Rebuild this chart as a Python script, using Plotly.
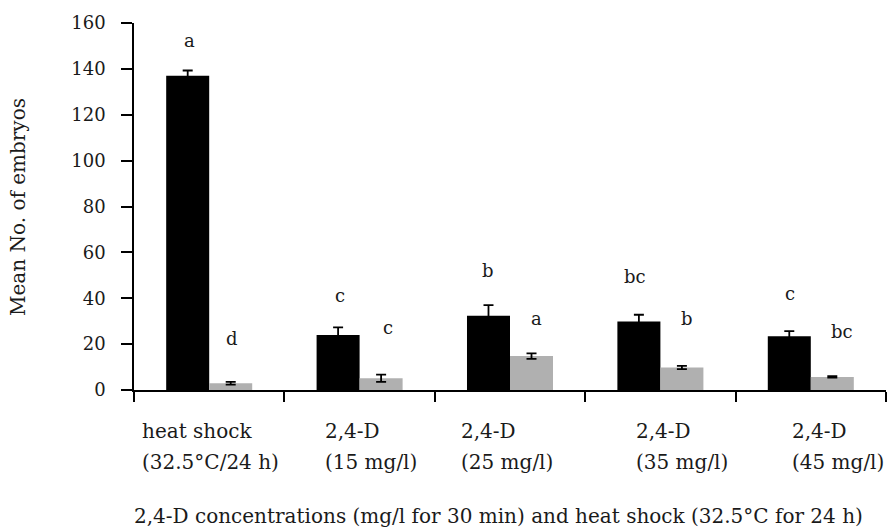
import plotly.graph_objects as go

# ---- data ----
cat_line1 = ["heat shock", "2,4-D", "2,4-D", "2,4-D", "2,4-D"]
cat_line2 = ["(32.5°C/24 h)", "(15 mg/l)", "(25 mg/l)", "(35 mg/l)", "(45 mg/l)"]
black_vals = [137.0, 24.0, 32.4, 29.9, 23.4]
black_err = [2.3, 3.3, 4.6, 2.9, 2.3]
gray_vals = [2.9, 5.1, 14.8, 9.8, 5.7]
gray_err = [0.6, 1.6, 1.2, 0.7, 0.3]
black_letters = ["a", "c", "b", "bc", "c"]
gray_letters = ["d", "c", "a", "b", "bc"]
y_ticks = [0, 20, 40, 60, 80, 100, 120, 140, 160]
x_title = "2,4-D concentrations (mg/l for 30 min) and heat shock (32.5°C for 24 h)"
y_title = "Mean No. of embryos"

# ---- layout constants ----
W, H = 887, 529
ML, MR, MT, MB = 134, 1, 23, 139
PW, PH = W - ML - MR, H - MT - MB
FONT = "DejaVu Serif"
TXT = "#1a1a1a"
BAR_OFF = 0.143
# letter shifts (px): x relative to bar centre, y above error bar top
black_dx = [1.5, 1.5, -0.6, -4, 1]
black_dy = [30, 32, 35, 38, 37.5]
gray_dx = [1.2, 6.5, 5.2, 4.7, 9.7]
gray_dy = [43, 47.5, 34.5, 47.5, 44.5]
label_dx = [-69, -36.7, -51.5, -26.2, -21.3]

x = list(range(len(cat_line1)))

fig = go.Figure()
fig.add_bar(x=x, y=black_vals, marker=dict(color="#000000", line=dict(width=0)),
            error_y=dict(type="data", array=black_err, color="#000000", thickness=1.8, width=5))
fig.add_bar(x=x, y=gray_vals, marker=dict(color="#b0b0b0", line=dict(width=0)),
            error_y=dict(type="data", array=gray_err, color="#000000", thickness=1.8, width=5))

ann = []
for i in x:
    ann.append(dict(x=i - BAR_OFF, y=black_vals[i] + black_err[i], xref="x", yref="y",
                    text=black_letters[i], showarrow=False, xanchor="center", yanchor="middle",
                    xshift=black_dx[i], yshift=black_dy[i], font=dict(family=FONT, size=18, color=TXT)))
    ann.append(dict(x=i + BAR_OFF, y=gray_vals[i] + gray_err[i], xref="x", yref="y",
                    text=gray_letters[i], showarrow=False, xanchor="center", yanchor="middle",
                    xshift=gray_dx[i], yshift=gray_dy[i], font=dict(family=FONT, size=18, color=TXT)))
    ann.append(dict(x=i, y=-40.7 / PH, xref="x", yref="paper", text=cat_line1[i], showarrow=False,
                    xanchor="left", yanchor="middle", xshift=label_dx[i],
                    font=dict(family=FONT, size=20, color=TXT)))
    ann.append(dict(x=i, y=-71.7 / PH, xref="x", yref="paper", text=cat_line2[i], showarrow=False,
                    xanchor="left", yanchor="middle", xshift=label_dx[i],
                    font=dict(family=FONT, size=20, color=TXT)))

ann.append(dict(x=(498.5 - ML) / PW, y=(390 - 516) / PH, xref="paper", yref="paper", text=x_title,
                showarrow=False, xanchor="center", yanchor="middle",
                font=dict(family=FONT, size=20, color=TXT)))
ann.append(dict(x=(18 - ML) / PW, y=(390 - 207) / PH, xref="paper", yref="paper", text=y_title,
                showarrow=False, xanchor="center", yanchor="middle", textangle=-90,
                font=dict(family=FONT, size=20, color=TXT)))

fig.update_layout(
    width=W, height=H, margin=dict(l=ML, r=MR, t=MT, b=MB),
    plot_bgcolor="white", paper_bgcolor="white", showlegend=False,
    barmode="group", bargap=0.428, bargroupgap=0,
    annotations=ann,
    xaxis=dict(range=[-0.5, len(x) - 0.5], tickvals=[i - 0.5 for i in range(len(x) + 1)],
               showticklabels=False, ticks="outside", ticklen=10, tickwidth=1.5, tickcolor="#000",
               showline=True, linecolor="#000", linewidth=1.5, showgrid=False, zeroline=False),
    yaxis=dict(range=[0, 160], tickvals=y_ticks, ticks="outside", ticklen=11, tickwidth=1.5,
               tickcolor="#000", showline=True, linecolor="#000", linewidth=1.5, showgrid=False,
               zeroline=False, ticklabelstandoff=12,
               tickfont=dict(family=FONT, size=18, color=TXT)),
)

fig.write_html("out.html")
